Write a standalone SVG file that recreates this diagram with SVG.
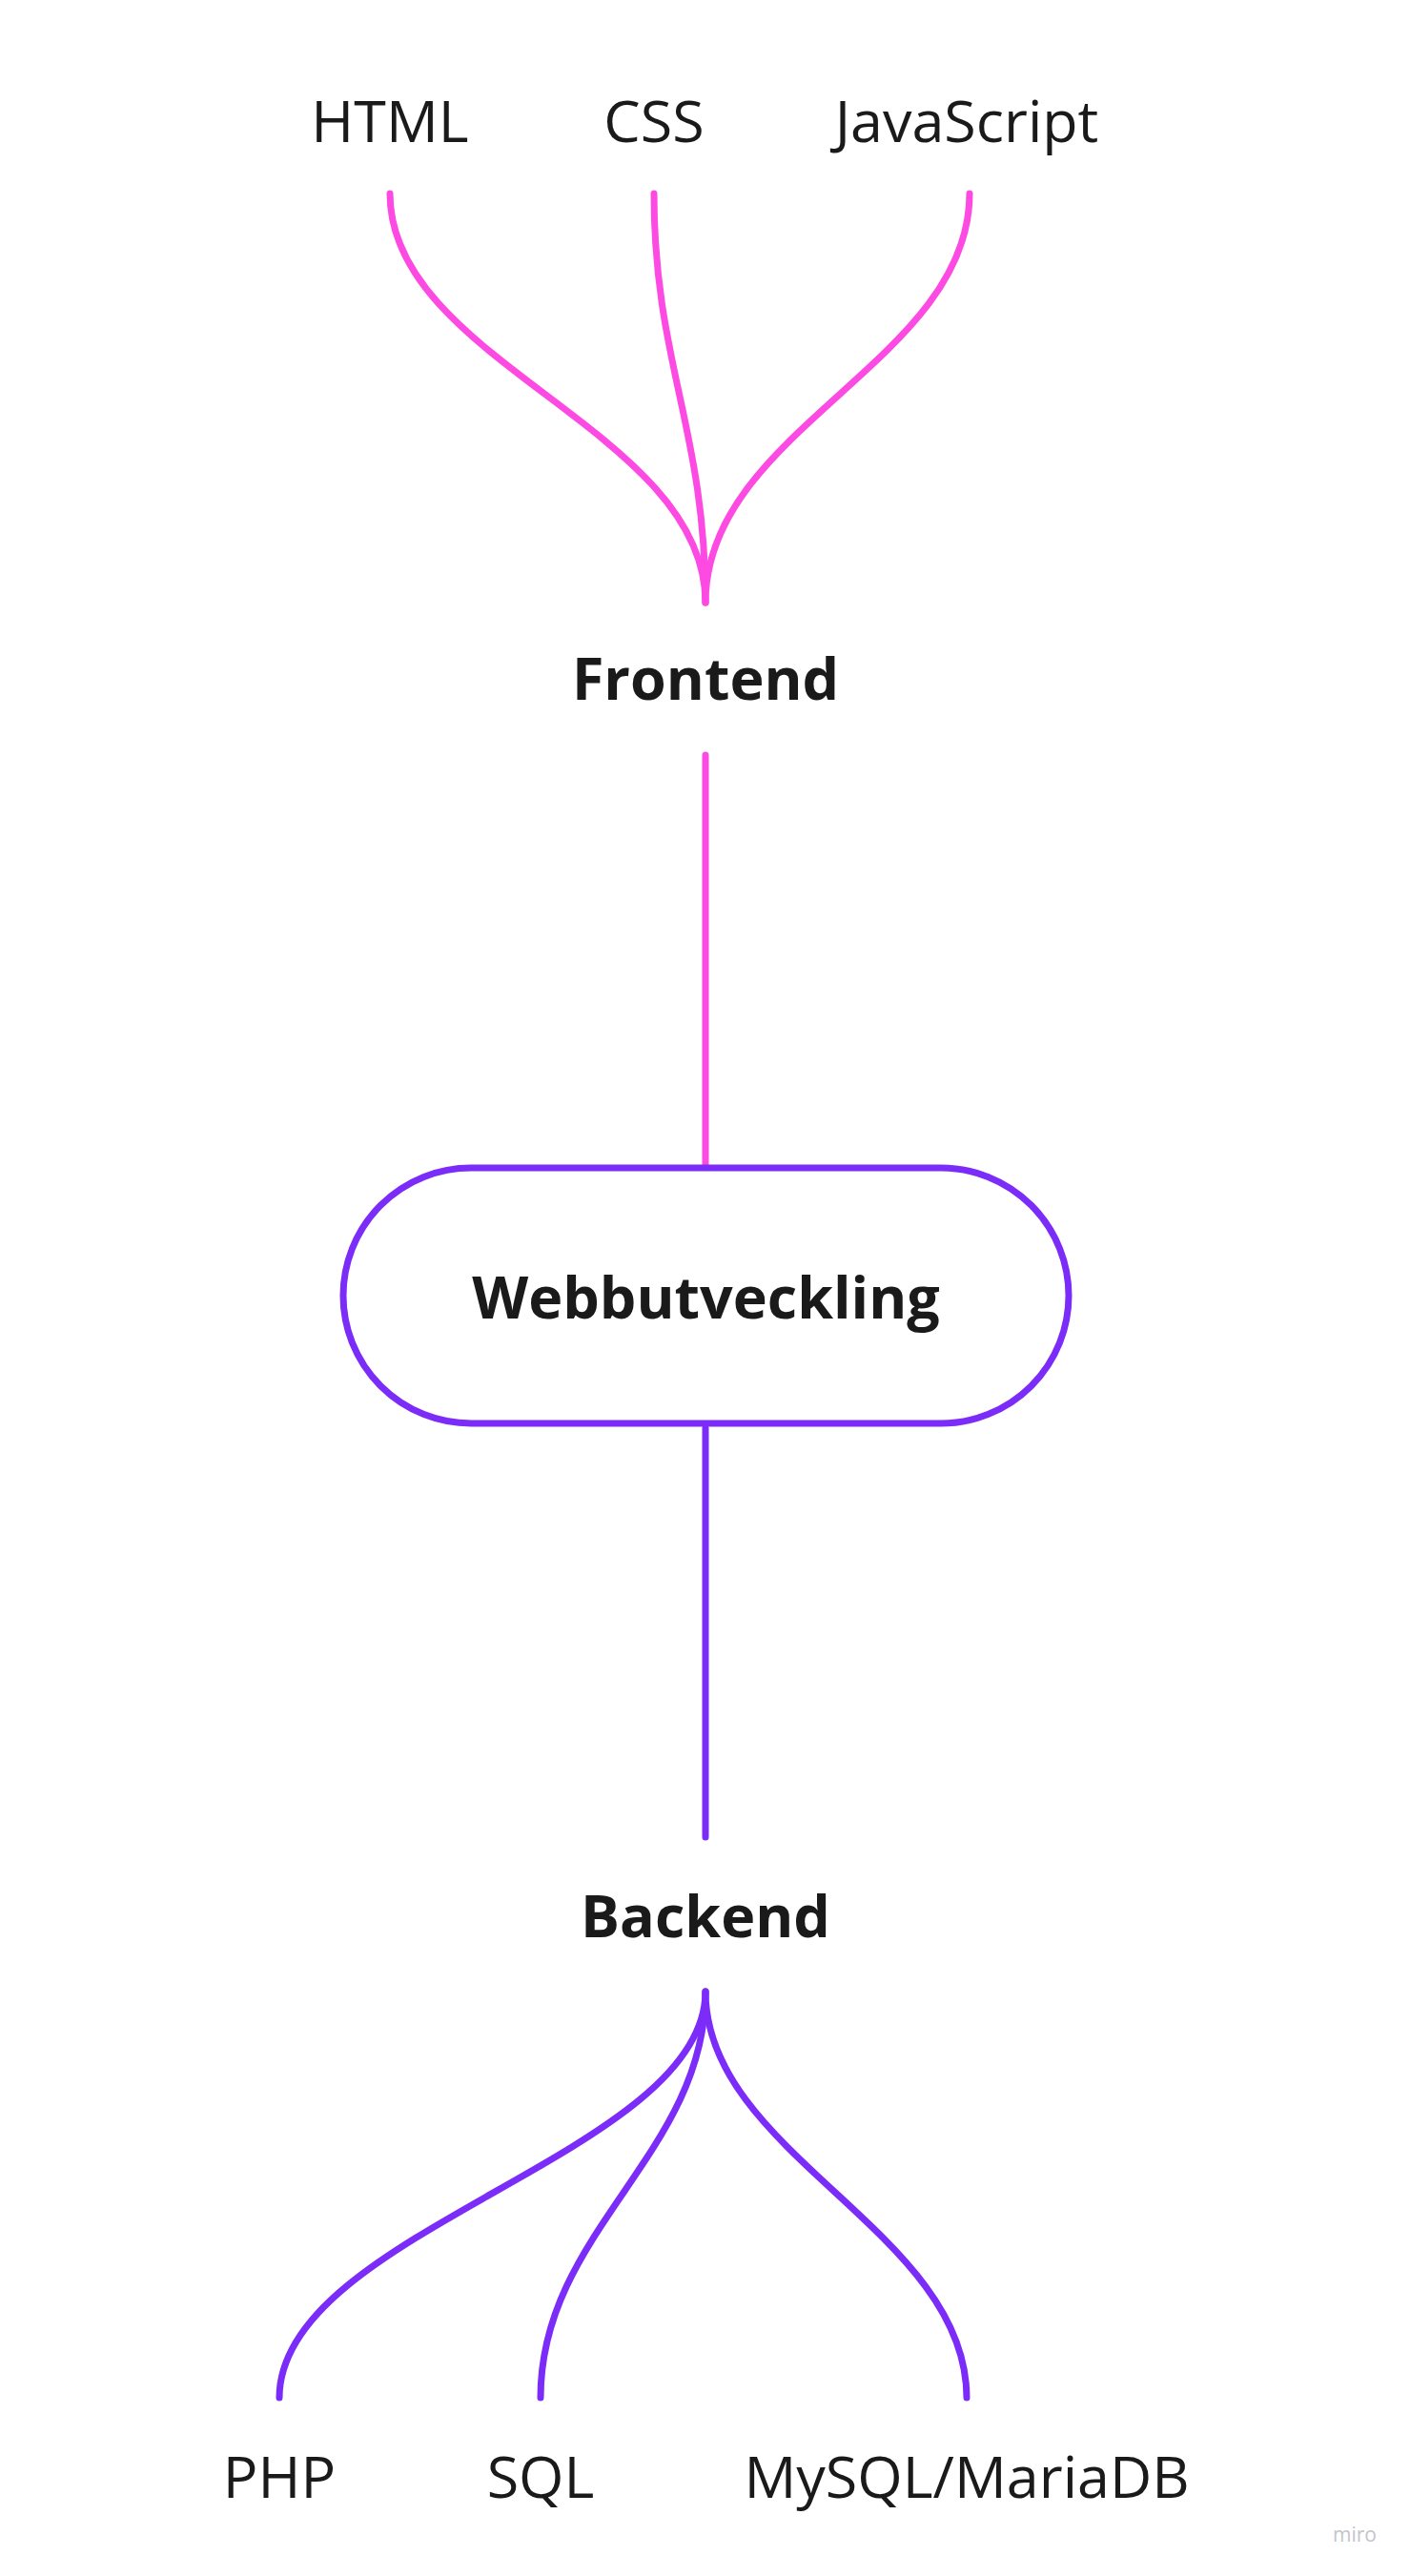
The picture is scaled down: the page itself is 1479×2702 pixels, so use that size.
<svg xmlns="http://www.w3.org/2000/svg" width="1479" height="2702" viewBox="0 0 1479 2702">
<style>
  .lbl{font-family:"Open Sans","Noto Sans","Liberation Sans",sans-serif;font-size:61px;fill:#1a1a1a;text-anchor:middle}
  .bold{font-weight:bold}
  .pink{fill:none;stroke:#fd4ae3;stroke-width:7;stroke-linecap:round}
  .purple{fill:none;stroke:#7b2cf8;stroke-width:7;stroke-linecap:round}
</style>
<rect width="1479" height="2702" fill="#ffffff"/>
<g id="connectors">
  <path class="pink" d="M409,203 C409,380 740,450 740,632"/>
  <path class="pink" d="M686,203 C686,380 740,450 740,632"/>
  <path class="pink" d="M1017,203 C1017,380 740,450 740,632"/>
  <path class="pink" d="M740,792 L740,1222"/>
  <path class="purple" d="M740,1498 L740,1927"/>
  <path class="purple" d="M740,2089 C740,2260 293,2340 293,2515"/>
  <path class="purple" d="M740,2089 C740,2260 567,2340 567,2515"/>
  <path class="purple" d="M740,2089 C740,2260 1014,2340 1014,2515"/>
</g>
<g id="node-html"><text class="lbl" x="409" y="149">HTML</text></g>
<g id="node-css"><text class="lbl" x="686" y="149">CSS</text></g>
<g id="node-javascript"><text class="lbl" x="1014" y="149">JavaScript</text></g>
<g id="node-frontend"><text class="lbl bold" x="740" y="734">Frontend</text></g>
<g id="node-webbutveckling">
  <rect x="360" y="1225" width="761" height="268" rx="134" ry="134" fill="#ffffff" stroke="#7b2cf8" stroke-width="7"/>
  <text class="lbl bold" x="740.5" y="1383">Webbutveckling</text>
</g>
<g id="node-backend"><text class="lbl bold" x="740" y="2032">Backend</text></g>
<g id="node-php"><text class="lbl" x="293" y="2620">PHP</text></g>
<g id="node-sql"><text class="lbl" x="567" y="2620">SQL</text></g>
<g id="node-mysql"><text class="lbl" x="1014" y="2620">MySQL/MariaDB</text></g>
<text x="1421" y="2666" font-family="Open Sans, Liberation Sans, sans-serif" font-size="21" fill="#c4c4cc" text-anchor="middle">miro</text>
</svg>
